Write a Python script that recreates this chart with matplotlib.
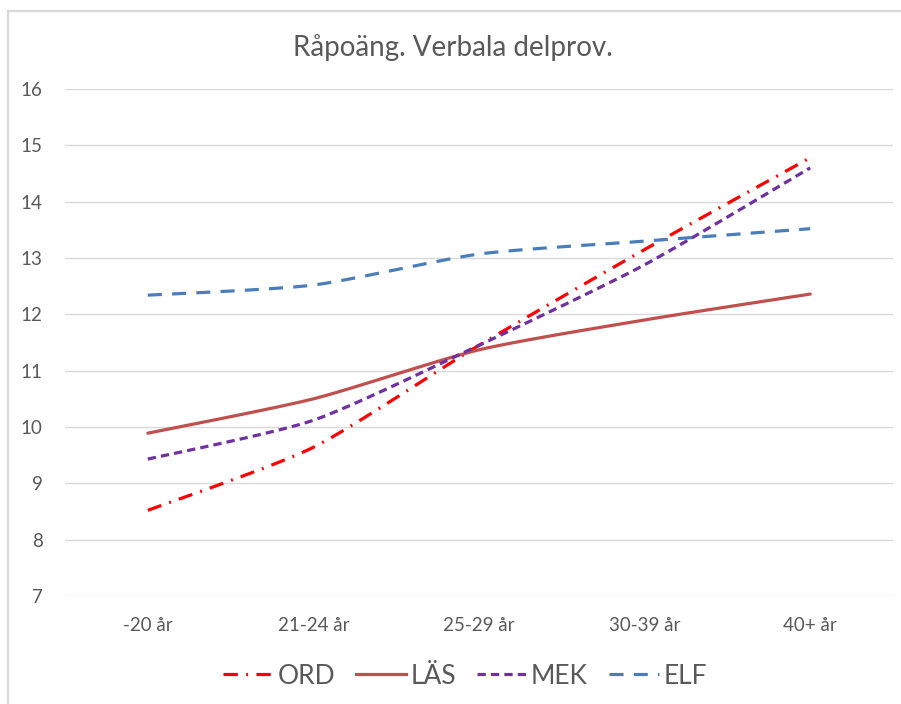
import matplotlib
matplotlib.use("Agg")
import matplotlib.pyplot as plt
from matplotlib.lines import Line2D
import numpy as np

# data
categories = ["-20 år", "21-24 år", "25-29 år", "30-39 år", "40+ år"]
ord_vals = [8.52, 9.64, 11.45, 13.15, 14.78]
las_vals = [9.89, 10.50, 11.37, 11.90, 12.36]
mek_vals = [9.43, 10.12, 11.45, 12.88, 14.60]
elf_vals = [12.34, 12.52, 13.07, 13.30, 13.52]
yticks = [7, 8, 9, 10, 11, 12, 13, 14, 15, 16]

plt.rcParams['font.family'] = ['Lato', 'DejaVu Sans']
text_col = '#595959'


def smooth(xs, ys, n=30, k=9.0):
    # Excel style smoothed line (cardinal spline through the points)
    xs = np.asarray(xs, float)
    ys = np.asarray(ys, float)
    px = np.concatenate([[xs[0]], xs, [xs[-1]]])
    py = np.concatenate([[ys[0]], ys, [ys[-1]]])
    t = np.linspace(0, 1, n)
    ox, oy = [], []
    for i in range(1, len(px) - 2):
        p0, p1, p2, p3 = [np.array([px[j], py[j]]) for j in range(i - 1, i + 3)]
        c1 = p1 + (p2 - p0) / k
        c2 = p2 - (p3 - p1) / k
        b = ((1 - t) ** 3)[:, None] * p1 + (3 * (1 - t) ** 2 * t)[:, None] * c1 \
            + (3 * (1 - t) * t ** 2)[:, None] * c2 + (t ** 3)[:, None] * p2
        ox.extend(b[:, 0])
        oy.extend(b[:, 1])
    return np.array(ox), np.array(oy)


fig = plt.figure(figsize=(9.01, 7.04), dpi=100)
ax = fig.add_axes([65 / 901, 108 / 704, 828 / 901, 507 / 704])

x = np.arange(len(categories))
series = [
    ("ORD", ord_vals, '#ff0000', (4.5, 2.6, 0.6, 2.6)),
    ("LÄS", las_vals, '#c0504d', None),
    ("MEK", mek_vals, '#7030a0', (2.6, 1.6)),
    ("ELF", elf_vals, '#4a7ebb', (4.4, 3.2)),
]
handles = []
for name, vals, col, dash in series:
    sx, sy = smooth(x, vals)
    line, = ax.plot(sx, sy, color=col, lw=2.3, solid_capstyle='round')
    if dash is not None:
        line.set_dashes(dash)
    h = Line2D([], [], color=col, lw=2.3)
    if dash is not None:
        h.set_dashes(dash)
    handles.append(h)

ax.set_xlim(-0.5, len(categories) - 0.5)
ax.set_ylim(7, 16)
ax.set_yticks(yticks)
ax.set_xticks(x)
ax.set_xticklabels(categories)
ax.grid(axis='y', color='#d9d9d9', lw=1)
ax.set_axisbelow(True)
for s in ax.spines.values():
    s.set_visible(False)
ax.tick_params(length=0, labelsize=13.5, colors=text_col)
ax.tick_params(axis='y', pad=16)
ax.tick_params(axis='x', pad=15)

fig.text(453 / 901, 1 - 48 / 704, "Råpoäng. Verbala delprov.", ha='center', va='center',
         fontsize=20, color=text_col)

fig.legend(handles, [s[0] for s in series], loc='center', bbox_to_anchor=(465 / 901, 1 - 676 / 704),
           ncol=4, frameon=False, fontsize=19, handlelength=1.9, handletextpad=0.15,
           columnspacing=0.8, labelcolor=text_col)

# light frame around the chart (top and left visible)
fig.add_artist(Line2D([7.5 / 901, 7.5 / 901], [0, 1 - 10.5 / 704], color='#d9d9d9', lw=1.6))
fig.add_artist(Line2D([7.5 / 901, 1], [1 - 10.5 / 704, 1 - 10.5 / 704], color='#d9d9d9', lw=1.6))

fig.savefig("out.png", dpi=100)
